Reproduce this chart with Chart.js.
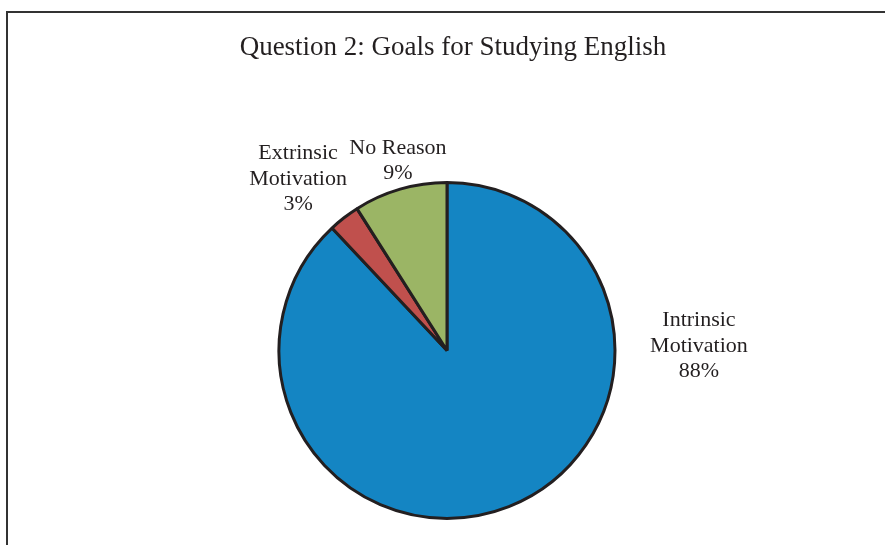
<!DOCTYPE html>
<html>
<head>
<meta charset="utf-8">
<script src="https://cdn.jsdelivr.net/npm/chart.js@4/dist/chart.umd.min.js"></script>
<style>
  html, body { margin: 0; padding: 0; background: #fff; overflow: hidden; }
  #wrap { position: relative; width: 885px; height: 545px; }
  #frame { position: absolute; left: 6px; top: 11px; width: 900px; height: 600px;
           border: 2px solid #333; box-sizing: border-box; }
  canvas { position: absolute; left: 0; top: 0; }
</style>
</head>
<body>
<div id="wrap">
  <div id="frame"></div>
  <canvas id="c" width="885" height="545"></canvas>
</div>
<script>
const titleText = 'Question 2: Goals for Studying English';
const categories = ['Intrinsic Motivation', 'Extrinsic Motivation', 'No Reason'];
const categoryLines = [['Intrinsic', 'Motivation'], ['Extrinsic', 'Motivation'], ['No Reason']];
const values = [88, 3, 9];
const colors = ['#1485c3', '#c0504d', '#9bb565'];

// label placement: angle from 12 o'clock (deg, clockwise) and distance from centre
const labelPlacement = [
  { angle: 89, dist: 252 },
  { angle: -41, dist: 227 },
  { angle: -14.5, dist: 196 }
];

const labelPlugin = {
  id: 'pieLabels',
  afterDraw(chart) {
    const ctx = chart.ctx;
    const meta = chart.getDatasetMeta(0);
    ctx.save();
    ctx.fillStyle = '#231f20';
    ctx.textAlign = 'center';
    ctx.textBaseline = 'middle';
    ctx.font = '27px "Liberation Serif", "Times New Roman", serif';
    ctx.fillText(titleText, 453, 48);
    ctx.font = '22px "Liberation Serif", "Times New Roman", serif';
    const lh = 25.5;
    meta.data.forEach((arc, i) => {
      const cx = arc.x, cy = arc.y;
      const p = labelPlacement[i];
      const a = p.angle * Math.PI / 180;
      const x = cx + Math.sin(a) * p.dist;
      const y = cy - Math.cos(a) * p.dist;
      const lines = categoryLines[i].concat([values[i] + '%']);
      const start = y - (lines.length - 1) * lh / 2;
      lines.forEach((t, k) => ctx.fillText(t, x, start + k * lh));
    });
    ctx.restore();
  }
};

new Chart(document.getElementById('c'), {
  type: 'pie',
  data: {
    labels: categories,
    datasets: [{
      data: values,
      backgroundColor: colors,
      borderColor: '#231f20',
      borderWidth: 3,
      borderAlign: 'center'
    }]
  },
  options: {
    responsive: false,
    animation: false,
    layout: { padding: { top: 181, bottom: 25, left: 109, right: 100 } },
    plugins: {
      legend: { display: false },
      title: { display: false },
      tooltip: { enabled: false }
    }
  },
  plugins: [labelPlugin]
});
</script>
</body>
</html>
